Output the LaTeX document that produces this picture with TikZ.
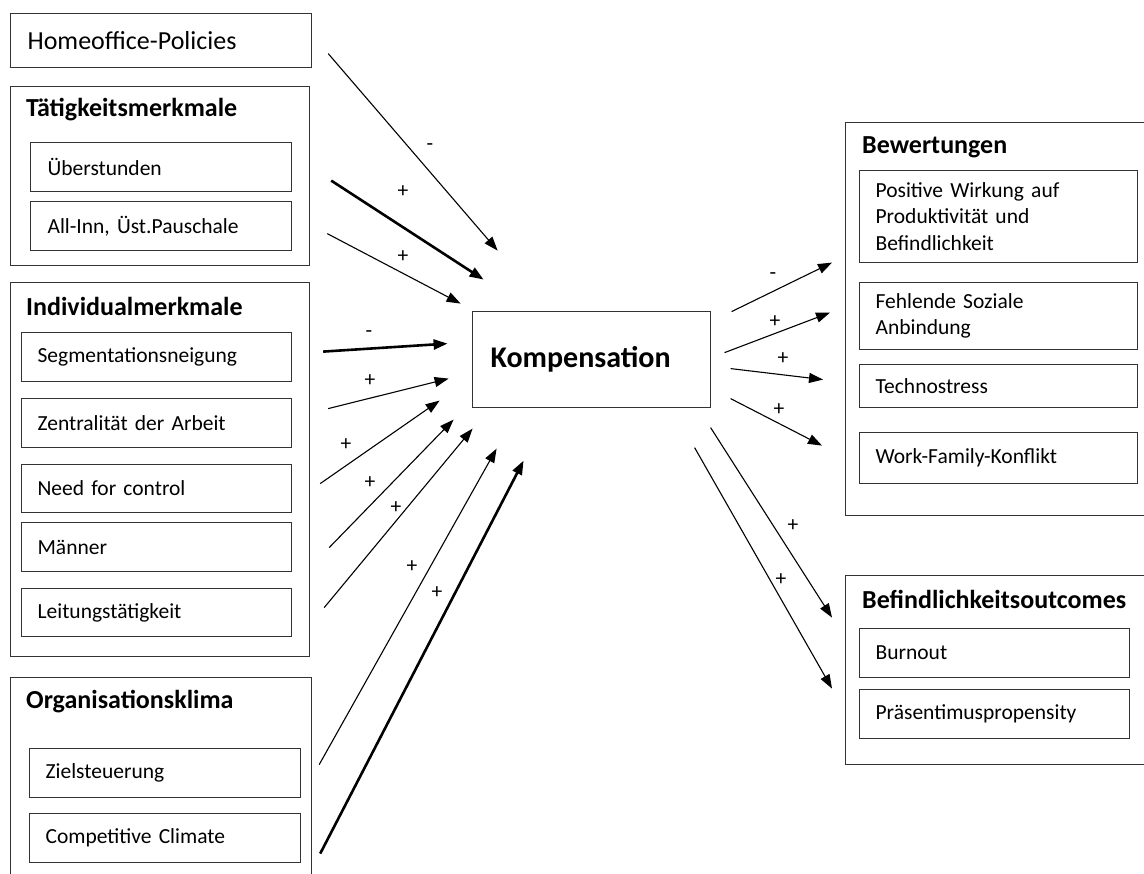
\documentclass[tikz,border=0pt]{standalone}
\usepackage{fontspec}
\setmainfont{Carlito}
\usetikzlibrary{arrows.meta}
\tikzset{
  rahmen/.style={draw=black!80, line width=1.4pt, anchor=north west, inner sep=0pt},
  feld/.style={draw=black!80, line width=1.2pt, anchor=north west, align=left, inner xsep=16pt, inner ysep=0pt, font=\fontsize{21.5}{26.5}\selectfont},
  titel/.style={anchor=west, inner sep=0pt, font=\bfseries\fontsize{26}{30}\selectfont},
  sgn/.style={inner sep=0pt, font=\fontsize{21.5}{26}\selectfont},
  duenn/.style={->, line width=1.1pt},
  dick/.style={->, line width=2.6pt}
}
\begin{document}
\begin{tikzpicture}[x=1pt, y=-1pt, >={Triangle[length=14pt,width=10pt]}]
\path[use as bounding box, clip] (0,0) rectangle (1144,874);
% linke Spalte
\node[feld, font=\fontsize{26}{30}\selectfont, inner xsep=17pt, text width=267pt, minimum height=54pt] (home) at (10,13) {Homeoffice-Policies};
\node[rahmen, minimum width=299pt, minimum height=179pt] (taet) at (10,86) {};
\node[titel] (taett) at (26,110) {Tätigkeitsmerkmale};
\node[feld, inner xsep=17pt, text width=227pt, minimum height=49pt] (ueber) at (30,142) {Überstunden};
\node[feld, inner xsep=17pt, text width=227pt, minimum height=49pt] (allinn) at (30,201) {All-Inn, Üst.Pauschale};
\node[rahmen, minimum width=299pt, minimum height=374pt] (indi) at (10,282) {};
\node[titel] (indit) at (26,306) {Individualmerkmale};
\node[feld, text width=238pt, minimum height=49pt] (seg) at (21,332) {Segmentationsneigung};
\node[feld, text width=238pt, minimum height=49pt] (zen) at (21,398) {Zentralität der Arbeit};
\node[feld, text width=238pt, minimum height=48pt] (need) at (21,464) {Need for control};
\node[feld, text width=238pt, minimum height=49pt] (maen) at (21,522) {Männer};
\node[feld, text width=238pt, minimum height=48pt] (leit) at (21,588) {Leitungstätigkeit};
\node[rahmen, minimum width=301pt, minimum height=230pt] (orga) at (10,677) {};
\node[titel] (orgat) at (26,702) {Organisationsklima};
\node[feld, text width=239pt, minimum height=49pt] (ziel) at (29,748) {Zielsteuerung};
\node[feld, text width=239pt, minimum height=49pt] (comp) at (29,813) {Competitive Climate};
% Mitte
\node[feld, font=\bfseries\fontsize{30}{36}\selectfont, inner xsep=18pt, text width=202pt, minimum height=96pt] (komp) at (472,311) {Kompensation};
% rechte Spalte
\node[rahmen, minimum width=330pt, minimum height=393pt] (bew) at (845,122) {};
\node[titel] (bewt) at (862,147) {Bewertungen};
\node[feld, text width=246pt, minimum height=92pt] (pos) at (859,170) {Positive Wirkung auf\\Produktivität und\\Befindlichkeit};
\node[feld, text width=246pt, minimum height=67pt] (fehl) at (859,282) {Fehlende Soziale\\Anbindung};
\node[feld, text width=246pt, minimum height=43pt] (tech) at (859,364) {Technostress};
\node[feld, text width=246pt, minimum height=51pt] (wfk) at (859,432) {Work-Family-Konflikt};
\node[rahmen, minimum width=330pt, minimum height=189pt] (bef) at (845,575) {};
\node[titel] (beft) at (862,599) {Befindlichkeitsoutcomes};
\node[feld, text width=238pt, minimum height=49pt] (burn) at (859,628) {Burnout};
\node[feld, text width=238pt, minimum height=49pt] (praes) at (859,689) {Präsentimuspropensity};
% Pfeile zur Kompensation
\foreach \s/\ax/\ay/\bx/\by in {home/16/13/-94/-109, allinn/35/7.5/-131/-56, zen/36/-14.5/-143/19, need/28/-5/-152/41, maen/37/0.5/-138/60, leit/32/-5/-119/69, ziel/18/-8.5/-95/89}
  \draw[duenn] ([shift={(\ax,\ay)}]\s.east) -- ([shift={(\bx,\by)}]komp.center);
\foreach \s/\ax/\ay/\bx/\by in {ueber/39/13.5/-108/-80, seg/31/-5.5/-144/-16, comp/19/15.5/-68/101}
  \draw[dick] ([shift={(\ax,\ay)}]\s.east) -- ([shift={(\bx,\by)}]komp.center);
% Pfeile zu den Outcomes
\foreach \z/\ax/\ay/\bx/\by in {pos/140/-48/-27/46, fehl/133/-7/-29/-3.5, tech/139/9/-36/-6.5, wfk/139/39/-37/-12.5, burn/119/68/-27/-35.5, praes/103/88/-27/-25.5}
  \draw[duenn] ([shift={(\ax,\ay)}]komp.center) -- ([shift={(\bx,\by)}]\z.west);
% Vorzeichen
\foreach \x/\y/\t [count=\i] in {430/147/-, 403/192/+, 403/257/+, 369/334/-, 370/381/+, 346/445/+, 370/483/+, 396/508/+, 412/567/+, 437/593/+, 773/276/-, 775/322/+, 783/359/+, 779/410/+, 793/526/+, 781/580/+}
  \node[sgn] (v\i) at (\x,\y) {\t};
\end{tikzpicture}
\end{document}
